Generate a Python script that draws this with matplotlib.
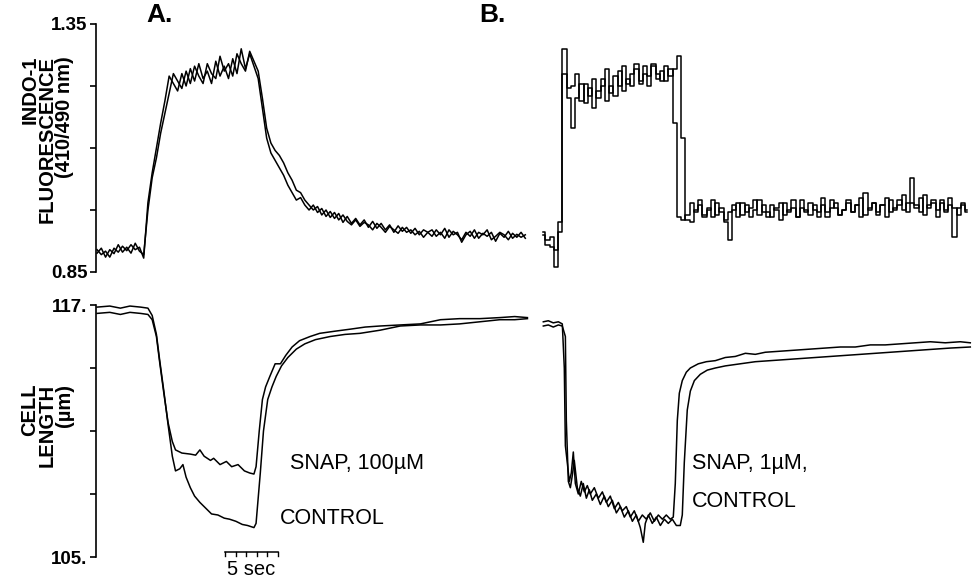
import numpy as np
import matplotlib
matplotlib.use("Agg")
import matplotlib.pyplot as plt

plt.rcParams["font.family"] = ["Liberation Sans", "DejaVu Sans"]

# ---- data ----
DT = 0.4          # s between samples of the fluorescence traces
A_START = 0.1     # s
B_START = 42.2    # s, panel B drawn to the right of panel A

# panel A, indo-1 ratio
flu_a_control = [
    0.895, 0.885, 0.892, 0.880, 0.898, 0.890, 0.902, 0.893, 0.905, 0.895, 0.900, 0.878,
    0.990, 1.050, 1.100, 1.150, 1.195,
    1.245, 1.230, 1.215, 1.250, 1.225, 1.260, 1.235, 1.270, 1.240, 1.255, 1.230, 1.275,
    1.245, 1.265, 1.240, 1.280, 1.250, 1.300, 1.260, 1.290, 1.265,
    1.240, 1.180, 1.120, 1.090, 1.075, 1.060, 1.045, 1.025, 1.010, 0.995, 1.000, 0.985, 0.975,
    0.985, 0.970, 0.978, 0.962, 0.972, 0.958, 0.968, 0.950, 0.962, 0.948, 0.958, 0.945,
    0.955, 0.940, 0.952, 0.938, 0.948, 0.935, 0.945, 0.930, 0.943, 0.932, 0.940, 0.928,
    0.938, 0.925, 0.935, 0.930, 0.922, 0.935, 0.925, 0.938, 0.920, 0.932, 0.925, 0.915,
    0.930, 0.922, 0.935, 0.918, 0.928, 0.922, 0.930, 0.912, 0.928, 0.920, 0.932, 0.918,
    0.926, 0.920, 0.925,
]
flu_a_snap = [
    0.888, 0.898, 0.880, 0.895, 0.887, 0.905, 0.890, 0.900, 0.888, 0.908, 0.892, 0.885,
    0.975, 1.040, 1.080, 1.130, 1.170,
    1.210, 1.250, 1.235, 1.220, 1.255, 1.230, 1.265, 1.245, 1.230, 1.270, 1.250, 1.240,
    1.285, 1.255, 1.270, 1.245, 1.290, 1.270, 1.255, 1.295, 1.275,
    1.255, 1.200, 1.140, 1.110, 1.095, 1.085, 1.070, 1.050, 1.035, 1.015, 1.010, 0.995, 0.985,
    0.975, 0.982, 0.965, 0.975, 0.960, 0.970, 0.955, 0.965, 0.952, 0.945, 0.955, 0.942,
    0.950, 0.945, 0.935, 0.948, 0.940, 0.930, 0.942, 0.935, 0.928, 0.940, 0.930, 0.935,
    0.925, 0.932, 0.920, 0.930, 0.935, 0.922, 0.930, 0.918, 0.935, 0.925, 0.930, 0.910,
    0.925, 0.932, 0.918, 0.930, 0.925, 0.935, 0.915, 0.922, 0.930, 0.925, 0.915, 0.928,
    0.920, 0.930, 0.918,
]

# panel B, indo-1 ratio
flu_b_control = [
    0.930, 0.915, 0.920, 0.895, 0.950,
    1.300, 1.200, 1.140, 1.200, 1.230, 1.190, 1.220, 1.180, 1.215, 1.240, 1.195, 1.225,
    1.205, 1.255, 1.215, 1.240, 1.225, 1.260, 1.230, 1.250, 1.225, 1.265, 1.240, 1.255,
    1.235, 1.260,
    1.150, 0.960,
    0.955, 0.965, 0.990, 0.970, 0.985, 0.960, 0.975, 0.995, 0.965, 0.980,
    0.955, 0.970, 0.985, 0.960, 0.990, 0.970, 0.980, 0.995, 0.965, 0.985,
    0.970, 0.960, 0.980, 0.990, 0.965, 0.975, 0.995, 0.960, 0.980, 0.970,
    0.990, 0.975, 0.960, 0.985, 0.970, 0.995, 0.980, 0.965, 0.975, 0.990,
    0.970, 0.985, 1.000, 0.965, 0.980, 0.990, 0.970, 0.985, 0.960, 0.995,
    0.975, 0.985, 1.005, 0.970, 0.990, 0.980, 1.000, 0.965, 0.985, 0.995,
    0.975, 0.990, 0.970, 1.000, 0.980, 0.965, 0.985, 0.975,
]
flu_b_snap = [
    0.925, 0.905, 0.900, 0.860, 0.930,
    1.250, 1.220, 1.225, 1.250, 1.195, 1.230, 1.205, 1.240, 1.200, 1.225, 1.260, 1.210,
    1.245, 1.225, 1.265, 1.230, 1.250, 1.270, 1.235, 1.265, 1.245, 1.270, 1.250, 1.235,
    1.265, 1.245,
    1.260, 1.285, 1.120,
    0.955, 0.950, 0.975, 0.995, 0.965, 0.980, 0.960, 0.990, 0.970, 0.950,
    0.915, 0.975, 0.990, 0.965, 0.985, 0.960, 0.975, 0.995, 0.970, 0.960,
    0.985, 0.975, 0.955, 0.990, 0.970, 0.980, 0.960, 0.995, 0.975, 0.965,
    0.985, 0.970, 1.000, 0.960, 0.980, 0.990, 0.965, 0.975, 0.995, 0.970,
    0.985, 0.960, 1.010, 0.975, 0.990, 0.965, 0.985, 1.000, 0.970, 0.980,
    0.995, 0.975, 0.990, 1.040, 0.985, 0.970, 1.005, 0.980, 0.990, 0.960,
    0.995, 0.975, 0.985, 0.920, 0.980, 0.990, 0.970,
]

# panel A, cell length (um)
len_a_snap_t = [0.1, 1.3, 2.3, 3.2, 4.2, 4.9, 5.3, 5.7, 6.0, 6.4, 6.8, 7.2, 7.5, 8.1, 8.9,
                9.4, 9.8, 10.2, 10.8, 11.1, 11.7, 12.3, 12.8, 13.4, 14.0, 14.5, 14.9, 15.1,
                15.4, 15.7, 16.0, 16.4, 16.9, 17.4, 17.9, 18.5, 19.2, 20.2, 21.1, 22.5, 24.0,
                25.4, 26.8, 28.7, 30.6, 32.5, 34.3, 36.2, 38.1, 39.5, 40.7]
len_a_snap = [116.6, 116.65, 116.55, 116.65, 116.6, 116.55, 116.3, 115.5, 114.3, 112.8,
              111.4, 110.5, 110.1, 109.95, 109.9, 109.85, 110.1, 109.8, 109.6, 109.7, 109.4,
              109.55, 109.3, 109.4, 109.1, 109.0, 108.95, 109.3, 111.0, 112.5, 113.1, 113.6,
              114.2, 114.2, 114.6, 115.0, 115.3, 115.5, 115.65, 115.75, 115.85, 115.95, 116.0,
              116.05, 116.1, 116.3, 116.35, 116.35, 116.4, 116.45, 116.4]
len_a_control_t = [0.1, 1.3, 2.3, 3.2, 4.2, 4.9, 5.3, 5.7, 6.0, 6.4, 6.8, 7.2, 7.5, 7.9, 8.2,
                   8.5, 8.9, 9.3, 9.8, 10.4, 10.9, 11.5, 12.1, 12.6, 13.2, 13.8, 14.3, 14.9,
                   15.1, 15.5, 15.8, 16.2, 16.6, 17.0, 17.5, 18.1, 18.9, 19.7, 20.7, 22.1,
                   23.5, 24.9, 26.8, 28.7, 30.6, 32.5, 34.3, 36.2, 38.1, 39.5, 40.7]
len_a_control = [116.9, 116.95, 116.85, 116.95, 116.9, 116.85, 116.5, 115.6, 114.4, 112.9,
                 111.3, 109.8, 109.1, 109.2, 109.4, 108.8, 108.3, 107.9, 107.6, 107.3, 107.05,
                 107.0, 106.85, 106.8, 106.7, 106.55, 106.5, 106.4, 106.6, 109.0, 111.0, 112.5,
                 113.1, 113.6, 114.1, 114.5, 114.9, 115.15, 115.35, 115.5, 115.6, 115.65, 115.8,
                 116.0, 116.05, 116.05, 116.1, 116.2, 116.3, 116.3, 116.35]

# panel B, cell length (um), time relative to B_START
len_b_1_t = [0.0, 0.47, 0.94, 1.42, 1.79, 1.98, 2.08, 2.26, 2.45, 2.64, 2.83, 3.02, 3.30,
             3.58, 3.87, 4.15, 4.43, 4.81, 5.19, 5.57, 5.94, 6.32, 6.70, 7.08, 7.45, 7.83,
             8.21, 8.58, 8.96, 9.34, 9.72, 10.09, 10.47, 10.85, 11.23, 11.60, 11.98, 12.26,
             12.45, 12.64, 12.83, 13.11, 13.49, 13.87, 14.62, 15.38, 16.23, 17.17, 18.11,
             19.06, 20.00, 20.94, 22.36, 23.77, 25.19, 26.60, 28.02, 29.43, 30.85, 32.26,
             33.68, 35.09, 36.51, 37.92, 39.34, 40.28]
len_b_1 = [116.2, 116.25, 116.15, 116.2, 116.1, 114.0, 110.3, 109.5, 108.6, 109.0, 110.0,
           108.5, 108.0, 108.6, 108.1, 108.4, 108.0, 108.3, 107.8, 108.1, 107.6, 107.9, 107.3,
           107.6, 107.2, 107.4, 106.9, 107.2, 106.7, 107.0, 106.8, 107.1, 106.7, 107.0, 106.8,
           107.0, 106.8, 106.9, 108.5, 111.5, 112.8, 113.4, 113.8, 114.0, 114.2, 114.3, 114.35,
           114.5, 114.55, 114.7, 114.65, 114.75, 114.8, 114.85, 114.9, 114.95, 115.0, 115.0,
           115.1, 115.1, 115.15, 115.2, 115.25, 115.2, 115.25, 115.2]
len_b_2_t = [0.0, 0.47, 0.94, 1.42, 1.79, 2.08, 2.17, 2.36, 2.55, 2.74, 2.92, 3.21, 3.49,
             3.77, 4.06, 4.34, 4.62, 5.00, 5.38, 5.75, 6.13, 6.51, 6.89, 7.26, 7.64, 8.02,
             8.40, 8.77, 9.15, 9.43, 9.62, 9.91, 10.28, 10.66, 11.04, 11.42, 11.79, 12.17,
             12.55, 12.92, 13.11, 13.30, 13.58, 13.87, 14.25, 14.81, 15.47, 16.23, 17.17,
             18.58, 20.00, 21.42, 22.83, 24.25, 25.66, 27.08, 28.49, 29.91, 31.32, 32.74,
             34.15, 35.57, 36.98, 38.40, 40.28]
len_b_2 = [116.0, 116.05, 115.95, 116.05, 116.0, 115.5, 111.5, 108.6, 108.3, 108.9, 109.6,
           108.3, 107.9, 108.5, 107.8, 108.2, 107.7, 108.0, 107.5, 107.9, 107.4, 107.7, 107.1,
           107.4, 106.9, 107.2, 106.7, 107.0, 106.4, 105.7, 106.6, 107.0, 106.6, 106.9, 106.5,
           106.8, 106.6, 106.8, 106.5, 106.5, 107.0, 109.5, 112.0, 112.9, 113.4, 113.7, 113.9,
           114.0, 114.1, 114.2, 114.3, 114.35, 114.4, 114.45, 114.5, 114.55, 114.6, 114.65,
           114.7, 114.75, 114.8, 114.85, 114.9, 114.95, 115.0]

flu_ticks = [0.85, 0.975, 1.10, 1.225, 1.35]
flu_ticklabels = ["0.85", "", "", "", "1.35"]
len_ticks = [105, 108, 111, 114, 117]
len_ticklabels = ["105.", "", "", "", "117."]

# ---- figure ----
W, H = 976, 584
fig = plt.figure(figsize=(W / 100, H / 100), dpi=100)
PX_PER_S = 10.6


def px_axes(left, top, right, bottom):
    return fig.add_axes([left / W, 1 - bottom / H, (right - left) / W, (bottom - top) / H])


ax_top = px_axes(96, 24, 976, 272)
ax_bot = px_axes(96, 305, 976, 557)

lw = 1.1
for ax in (ax_top, ax_bot):
    ax.set_xlim(0, 880 / PX_PER_S)
    for s in ("top", "right", "bottom"):
        ax.spines[s].set_visible(False)
    ax.spines["left"].set_linewidth(1.2)
    ax.set_xticks([])
    ax.tick_params(axis="y", direction="out", length=4, width=1.2, pad=2,
                   labelsize=13.5)

# fluorescence
for vals in (flu_a_control, flu_a_snap):
    t = A_START + DT * np.arange(len(vals))
    ax_top.plot(t, vals, color="black", lw=lw)
for vals in (flu_b_control, flu_b_snap):
    t = B_START + DT * np.arange(len(vals))
    ax_top.plot(t, vals, color="black", lw=lw, drawstyle="steps-mid")
ax_top.set_ylim(0.85, 1.35)
ax_top.set_yticks(flu_ticks)
ax_top.set_yticklabels(flu_ticklabels, fontweight="bold", fontsize=13.5)

# cell length
ax_bot.plot(len_a_snap_t, len_a_snap, color="black", lw=lw)
ax_bot.plot(len_a_control_t, len_a_control, color="black", lw=lw)
ax_bot.plot(B_START + np.array(len_b_1_t), len_b_1, color="black", lw=lw)
ax_bot.plot(B_START + np.array(len_b_2_t), len_b_2, color="black", lw=lw)
ax_bot.set_ylim(105, 117)
ax_bot.set_yticks(len_ticks)
ax_bot.set_yticklabels(len_ticklabels, fontweight="bold", fontsize=13.5)

# trace labels
ax_bot.text(18.3, 109.19, "SNAP, 100µM", fontsize=15.5, va="baseline")
ax_bot.text(17.36, 106.57, "CONTROL", fontsize=15.5, va="baseline")
ax_bot.text(56.2, 109.19, "SNAP, 1µM,", fontsize=15.5, va="baseline")
ax_bot.text(56.2, 107.38, "CONTROL", fontsize=15.5, va="baseline")

# 5 s scale bar
bar_x0 = 12.17
ax_bot.plot([bar_x0, bar_x0 + 5], [105.24, 105.24], color="black", lw=1.1, clip_on=False)
for k in range(6):
    ax_bot.plot([bar_x0 + k, bar_x0 + k], [105.24, 105.05], color="black", lw=1.0,
                clip_on=False)
ax_bot.text(bar_x0 + 2.5, 104.14, "5 sec", fontsize=14.5, ha="center", va="baseline")

# panel letters and axis titles (lines end flush at the top)
fig.text(160 / W, 1 - 15 / H, "A.", fontsize=19, fontweight="bold", ha="center", va="center")
fig.text(492 / W, 1 - 15 / H, "B.", fontsize=19, fontweight="bold", ha="center", va="center")
fig.text(47 / W, 1 - 56 / H, "INDO-1\nFLUORESCENCE\n(410/490 nm)", rotation=90,
         fontsize=14.5, fontweight="bold", ha="center", va="top", ma="right",
         linespacing=0.88)
fig.text(47 / W, 1 - 384 / H, "CELL\nLENGTH\n(µm)", rotation=90,
         fontsize=14.5, fontweight="bold", ha="center", va="top", ma="right",
         linespacing=0.88)

fig.savefig("out.png", dpi=100)
